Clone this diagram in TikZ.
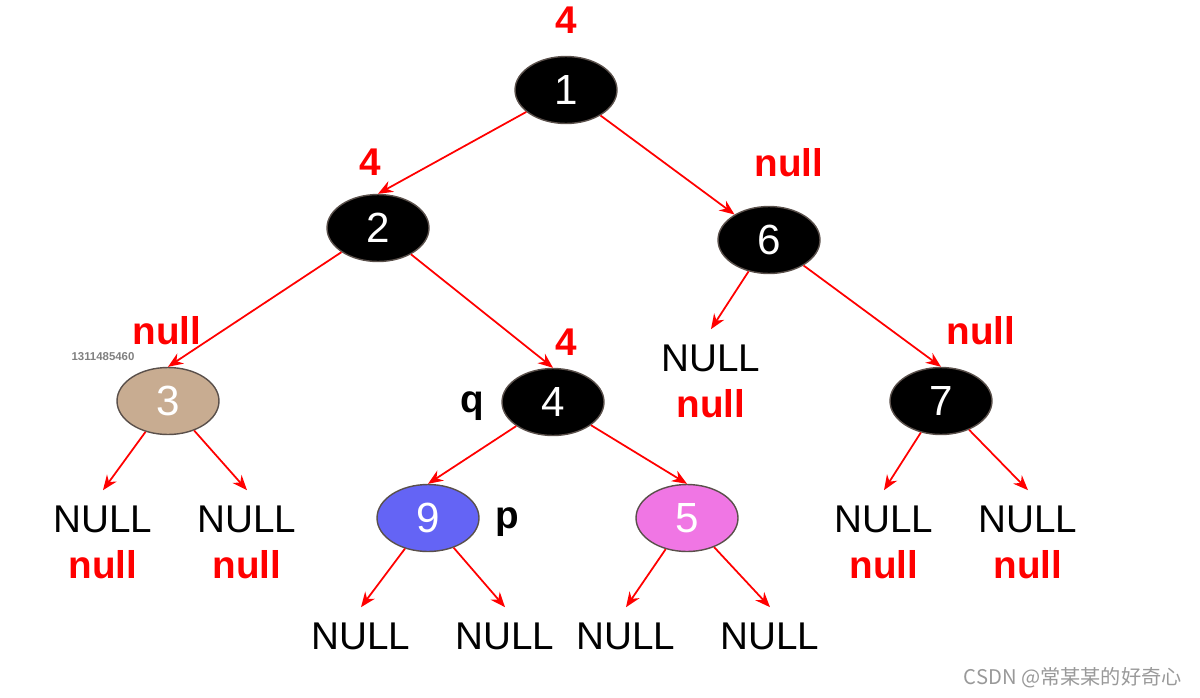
\documentclass[tikz,border=0pt]{standalone}
\usepackage{fontspec}
\setmainfont{Liberation Sans}
\newfontfamily\cjk{Noto Sans CJK SC}
\usetikzlibrary{arrows.meta,shapes.geometric,positioning}
\definecolor{sand}{RGB}{200,172,145}
\definecolor{violet}{RGB}{100,100,245}
\definecolor{orchid}{RGB}{240,118,228}
\definecolor{rim}{RGB}{90,80,75}
\tikzset{
  >={Stealth[length=3mm,width=2.4mm]},
  bt/.style={ellipse,draw=rim,fill=#1,text=white,line width=0.8pt,
    minimum width=2.04cm,minimum height=1.34cm,inner sep=0pt,
    font=\fontsize{24}{28}\selectfont},
  bt/.default=black,
  link/.style={->,draw=red,line width=1pt},
  nul/.style={font=\fontsize{22}{26}\selectfont,inner xsep=0pt,inner ysep=0.3cm},
  lbl/.style={text=#1,font=\fontsize{22}{26}\selectfont\bfseries,inner sep=0pt},
  lbl/.default=red,
}

\begin{document}
\begin{tikzpicture}[x=0.02cm,y=-0.02cm]
  \useasboundingbox (0,0) rectangle (1200,697);
  % tree nodes
  \node[bt] (n1) at (566,90) {1};
  \node[bt] (n2) at (378,228) {2};
  \node[bt] (n6) at (769,240) {6};
  \node[bt=sand] (n3) at (168,401) {3};
  \node[bt] (n4) at (553,402) {4};
  \node[bt] (n7) at (941,401) {7};
  \node[bt=violet] (n9) at (428,518) {9};
  \node[bt=orchid] (n5) at (687,518) {5};

  % empty children
  \foreach \nm/\x/\y in {a/103/519,b/247/519,c/711/358,d/884/519,e/1028/519}{
    \node[nul] (nl\nm) at (\x,\y) {NULL};
    \node[lbl] at (\x,\y+46) {null};
  }
  \foreach \nm/\x in {f/361,g/505,h/626,i/770}
    \node[nul] (nl\nm) at (\x,636) {NULL};

  % returned values
  \node[lbl] at (566,20) {4};
  \node[lbl] at (370,162) {4};
  \node[lbl] at (789,163) {null};
  \node[lbl] at (167,331) {null};
  \node[lbl] at (566,342) {4};
  \node[lbl] at (981,331) {null};
  \node[lbl=black] at (472,406) {q};
  \node[lbl=black] at (507,522) {p};

  \node[text=gray,font=\fontsize{6.5}{8}\selectfont\bfseries] at (103,357) {1311485460};
  \node[text=gray!80,font=\cjk\fontsize{11.5}{14}\selectfont,anchor=east] at (1188,678) {CSDN @常某某的好奇心};

  % edges
  \draw[link] (n1) -- (n2.north);
  \draw[link] (n1) -- (n6);
  \draw[link] (n2) -- (n3.north);
  \draw[link] (n2) -- (n4.north);
  \draw[link] (n6) -- (nlc.north);
  \draw[link] (n6) -- (n7.north);
  \draw[link] (n3) -- (nla.north);
  \draw[link] (n3) -- (nlb.north);
  \draw[link] (n4) -- (n9.north);
  \draw[link] (n4) -- (n5.north);
  \draw[link] (n7) -- (nld.north);
  \draw[link] (n7) -- (nle.north);
  \draw[link] (n9) -- (nlf.north);
  \draw[link] (n9) -- (nlg.north);
  \draw[link] (n5) -- (nlh.north);
  \draw[link] (n5) -- (nli.north);
\end{tikzpicture}
\end{document}
